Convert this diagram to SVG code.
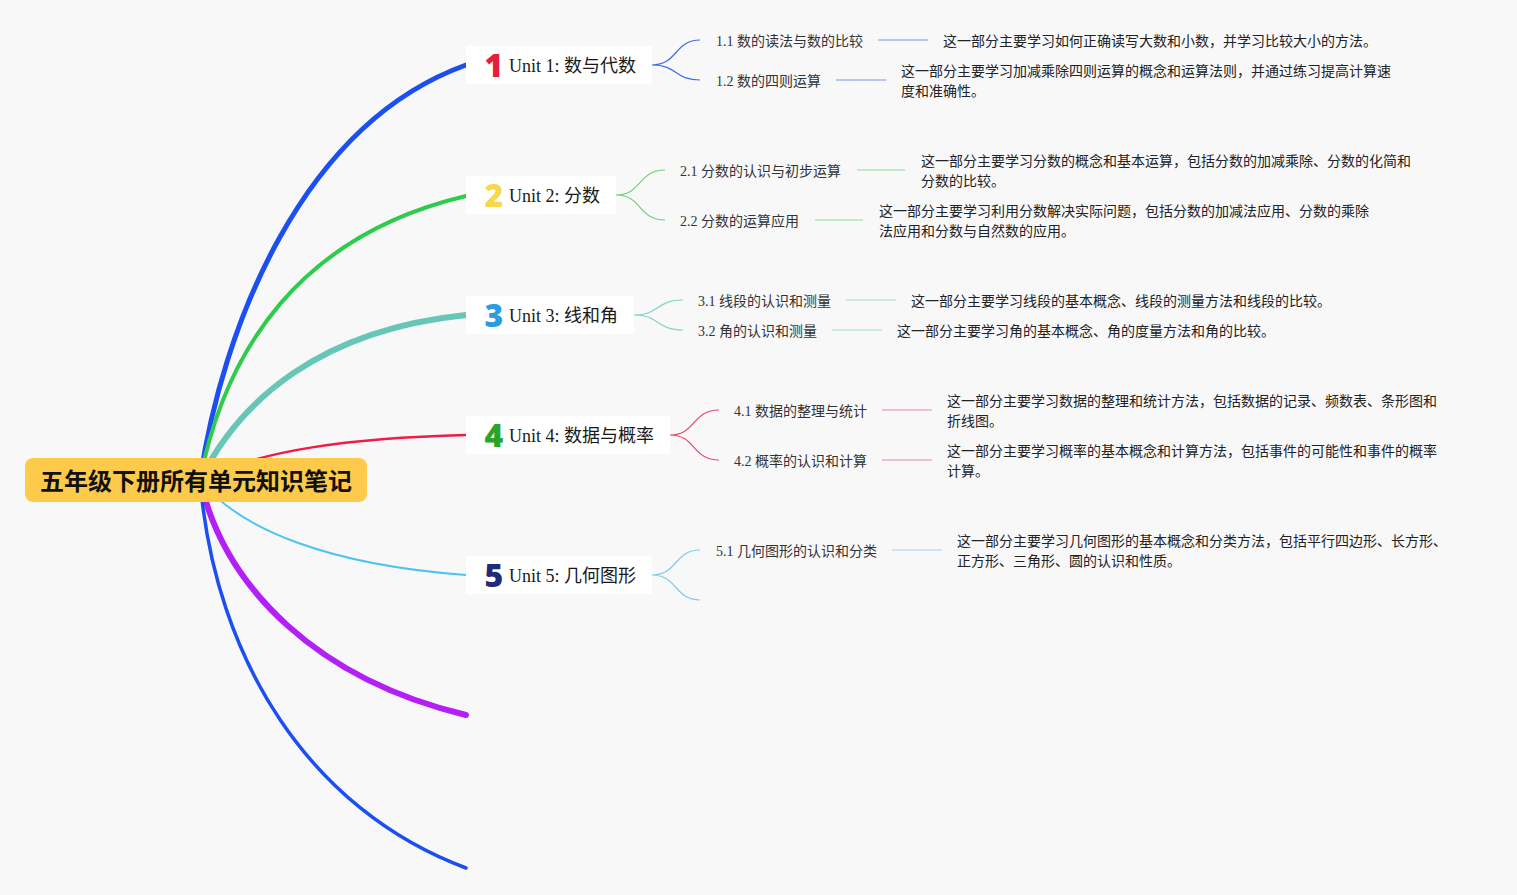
<svg xmlns="http://www.w3.org/2000/svg" width="1517" height="895" viewBox="0 0 1517 895">
<style>
.bg{fill:#f8f8f9}
.branch{fill:none;stroke-linecap:round}
.sub{fill:none;stroke-width:1.2}
.card{fill:#ffffff}
.utxt{font-family:"Liberation Serif","Noto Sans CJK SC",serif;font-size:18px;fill:#1a1a1a}
.icon{font-family:"Noto Sans","Liberation Sans",sans-serif;font-size:32px;font-weight:900;text-anchor:middle}
.st{font-family:"Liberation Serif","Noto Sans CJK SC",serif;font-size:14px;fill:#333}
.ds{font-family:"Noto Sans CJK SC",sans-serif;font-size:14px;fill:#222}
.root{font-family:"Noto Sans CJK SC",sans-serif;font-size:24px;font-weight:700;fill:#111;text-anchor:middle}
</style>
<rect class="bg" x="0" y="0" width="1517" height="895"/>
<g id="connectors">
<path class="branch" d="M200,480 C222,330 300,125 466,65" stroke="#1b4ff2" stroke-width="5"/>
<path class="branch" d="M200,480 C225,350 300,235 466,196" stroke="#2fcb4d" stroke-width="4"/>
<path class="branch" d="M200,480 C240,400 320,330 466,315" stroke="#66c6b8" stroke-width="6"/>
<path class="branch" d="M200,480 C260,450 350,438 466,435" stroke="#ee1c46" stroke-width="2.5"/>
<path class="branch" d="M200,480 C240,530 330,565 466,575" stroke="#4cc4f0" stroke-width="2"/>
<path class="branch" d="M200,480 C225,590 320,680 466,715" stroke="#b41ff6" stroke-width="6"/>
<path class="branch" d="M200,480 C215,660 310,810 466,868" stroke="#1b4ff2" stroke-width="3.5"/>
<path class="sub" d="M652,65 C678,65 674,40 700,40 M652,65 C678,65 674,80 700,80" stroke="#3e6fe3"/>
<path class="sub" d="M878,40 H928 M836,80 H886" stroke="#7898e0" stroke-width="1.5"/>
<path class="sub" d="M616,195 C642,195 638,170 665,170 M616,195 C642,195 638,220 665,220" stroke="#6fd07c"/>
<path class="sub" d="M857,170 H905 M815,220 H863" stroke="#8cdc98" stroke-width="1.5"/>
<path class="sub" d="M634,315 C660,315 656,300 683,300 M634,315 C660,315 656,330 683,330" stroke="#82d2c4"/>
<path class="sub" d="M846,300 H896 M832,330 H882" stroke="#a3dcd3" stroke-width="1.5"/>
<path class="sub" d="M670,435 C696,435 692,410 719,410 M670,435 C696,435 692,460 719,460" stroke="#e64a6a"/>
<path class="sub" d="M882,410 H932 M882,460 H932" stroke="#e8869a" stroke-width="1.5"/>
<path class="sub" d="M652,575 C678,575 674,550 700,550 M652,575 C678,575 674,600 700,600" stroke="#7ccdef"/>
<path class="sub" d="M892,550 H942" stroke="#98d6f0" stroke-width="1.5"/>
</g>
<g id="root">
<rect x="25" y="458" width="342" height="44" rx="8" fill="#fdca4c"/>
<text class="root" x="196" y="490">五年级下册所有单元知识笔记</text>
</g>
<g id="unit1">
<rect class="card" x="466" y="46" width="186" height="38"/>
<text class="icon" x="494" y="77" fill="#e51f3b">1</text>
<text class="utxt" x="509" y="72">Unit 1: 数与代数</text>
</g>
<g id="unit2">
<rect class="card" x="466" y="176" width="150" height="38"/>
<text class="icon" x="494" y="207" fill="#f6d84c">2</text>
<text class="utxt" x="509" y="202">Unit 2: 分数</text>
</g>
<g id="unit3">
<rect class="card" x="466" y="296" width="168" height="38"/>
<text class="icon" x="494" y="327" fill="#2b9ce0">3</text>
<text class="utxt" x="509" y="322">Unit 3: 线和角</text>
</g>
<g id="unit4">
<rect class="card" x="466" y="416" width="204" height="38"/>
<text class="icon" x="494" y="447" fill="#27a52c">4</text>
<text class="utxt" x="509" y="442">Unit 4: 数据与概率</text>
</g>
<g id="unit5">
<rect class="card" x="466" y="556" width="186" height="38"/>
<text class="icon" x="494" y="587" fill="#1f2b7a">5</text>
<text class="utxt" x="509" y="582">Unit 5: 几何图形</text>
</g>
<g id="t1-1"><text class="st" x="716" y="46">1.1 数的读法与数的比较</text></g>
<g id="d1-1"><text class="ds" x="943" y="46">这一部分主要学习如何正确读写大数和小数，并学习比较大小的方法。</text></g>
<g id="t1-2"><text class="st" x="716" y="86">1.2 数的四则运算</text></g>
<g id="d1-2"><text class="ds" x="901" y="76">这一部分主要学习加减乘除四则运算的概念和运算法则，并通过练习提高计算速</text><text class="ds" x="901" y="96">度和准确性。</text></g>
<g id="t2-1"><text class="st" x="680" y="176">2.1 分数的认识与初步运算</text></g>
<g id="d2-1"><text class="ds" x="921" y="166">这一部分主要学习分数的概念和基本运算，包括分数的加减乘除、分数的化简和</text><text class="ds" x="921" y="186">分数的比较。</text></g>
<g id="t2-2"><text class="st" x="680" y="226">2.2 分数的运算应用</text></g>
<g id="d2-2"><text class="ds" x="879" y="216">这一部分主要学习利用分数解决实际问题，包括分数的加减法应用、分数的乘除</text><text class="ds" x="879" y="236">法应用和分数与自然数的应用。</text></g>
<g id="t3-1"><text class="st" x="698" y="306">3.1 线段的认识和测量</text></g>
<g id="d3-1"><text class="ds" x="911" y="306">这一部分主要学习线段的基本概念、线段的测量方法和线段的比较。</text></g>
<g id="t3-2"><text class="st" x="698" y="336">3.2 角的认识和测量</text></g>
<g id="d3-2"><text class="ds" x="897" y="336">这一部分主要学习角的基本概念、角的度量方法和角的比较。</text></g>
<g id="t4-1"><text class="st" x="734" y="416">4.1 数据的整理与统计</text></g>
<g id="d4-1"><text class="ds" x="947" y="406">这一部分主要学习数据的整理和统计方法，包括数据的记录、频数表、条形图和</text><text class="ds" x="947" y="426">折线图。</text></g>
<g id="t4-2"><text class="st" x="734" y="466">4.2 概率的认识和计算</text></g>
<g id="d4-2"><text class="ds" x="947" y="456">这一部分主要学习概率的基本概念和计算方法，包括事件的可能性和事件的概率</text><text class="ds" x="947" y="476">计算。</text></g>
<g id="t5-1"><text class="st" x="716" y="556">5.1 几何图形的认识和分类</text></g>
<g id="d5-1"><text class="ds" x="957" y="546">这一部分主要学习几何图形的基本概念和分类方法，包括平行四边形、长方形、</text><text class="ds" x="957" y="566">正方形、三角形、圆的认识和性质。</text></g>
</svg>
